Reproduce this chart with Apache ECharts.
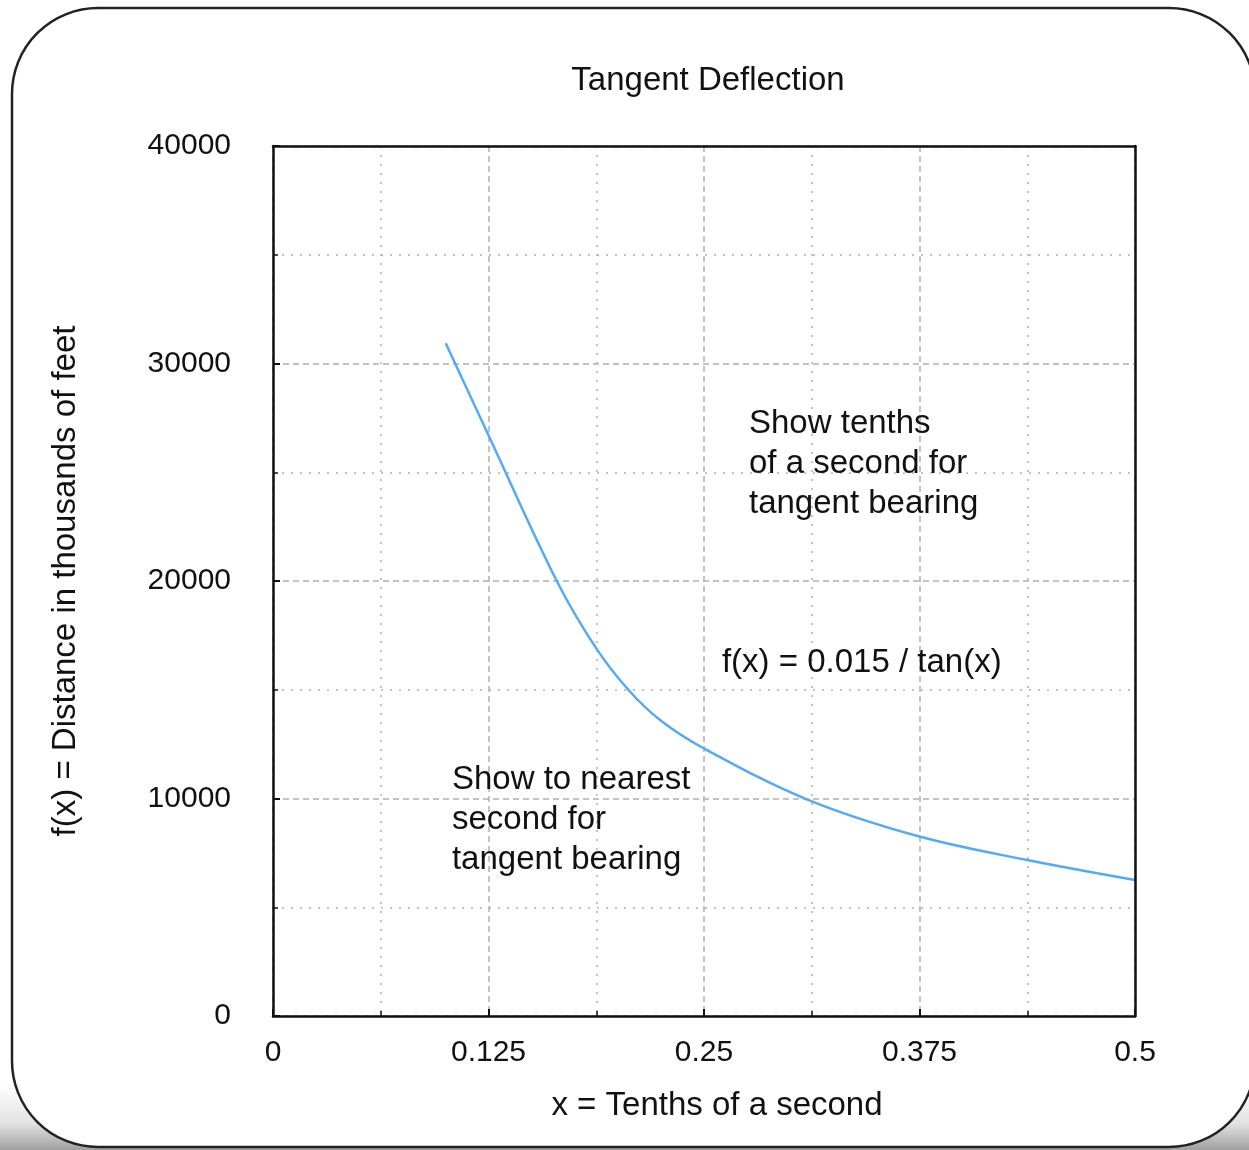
<!DOCTYPE html>
<html>
<head>
<meta charset="utf-8">
<script src="https://cdn.jsdelivr.net/npm/echarts@6/dist/echarts.min.js"></script>
<style>
  html, body { margin: 0; padding: 0; background: #fff; }
  #main { width: 1249px; height: 1150px; }
</style>
</head>
<body>
<div id="main"></div>
<script>
// ---- data ----
const titleText = 'Tangent Deflection';
const xAxisName = 'x = Tenths of a second';
const yAxisName = 'f(x) = Distance in thousands of feet';
const xTickLabels = ['0', '0.125', '0.25', '0.375', '0.5'];
const yTickLabels = ['0', '10000', '20000', '30000', '40000'];
const xValues = [0.1002, 0.125, 0.1646, 0.1875, 0.2061, 0.2245, 0.25, 0.31, 0.375, 0.4375, 0.5];
const yValues = [30930, 26700, 20000, 16900, 15000, 13610, 12300, 9950, 8250, 7170, 6250];
const annotationTexts = [
  'Show tenths\nof a second for\ntangent bearing',
  'f(x) = 0.015 / tan(x)',
  'Show to nearest\nsecond for\ntangent bearing'
];
const annotationAnchors = [[0.2761, 25380], [0.2604, 16230], [0.1038, 9010]];

const FONT = '"Liberation Sans", Arial, Helvetica, sans-serif';
const TXT = '#111';
const WORD_SIZE = 33;
const NUM_SIZE = 30;
const FRAME = '#111';

const chart = echarts.init(document.getElementById('main'), null, { renderer: 'canvas' });

const seriesData = xValues.map((x, i) => [x, yValues[i]]);

const frameAxis = {
  axisLine: { show: true, onZero: false, lineStyle: { color: FRAME, width: 2.5 } },
  axisTick: { show: false }, axisLabel: { show: false },
  splitLine: { show: false }, minorSplitLine: { show: false }, z: 10
};

const option = {
  animation: false,
  backgroundColor: '#fff',
  title: {
    text: titleText,
    left: 703,
    textAlign: 'center',
    top: 59,
    textStyle: { fontFamily: FONT, fontSize: WORD_SIZE, fontWeight: 'normal', color: TXT }
  },
  grid: {
    left: 273, top: 146, right: 114, bottom: 134,
    show: false
  },
  xAxis: [{
    type: 'value', min: 0, max: 0.5, interval: 0.125,
    name: xAxisName, nameLocation: 'middle', nameGap: 73,
    nameTextStyle: { fontFamily: FONT, fontSize: WORD_SIZE, color: TXT, padding: [0, 0, 0, 26] },
    axisLine: { show: true, onZero: false, lineStyle: { color: FRAME, width: 2.5 } },
    axisTick: { show: true, inside: true, length: 7, lineStyle: { color: FRAME, width: 2 } },
    minorTick: { show: true, splitNumber: 2, length: 5, lineStyle: { color: FRAME, width: 1.5 } },
    axisLabel: {
      fontFamily: FONT, fontSize: NUM_SIZE, color: TXT, margin: 22,
      formatter: (v) => xTickLabels[Math.round(v / 0.125)] ?? ''
    },
    splitLine: { show: true, lineStyle: { color: '#b0b0b0', width: 1.5, type: [6, 4] } },
    minorSplitLine: { show: true, lineStyle: { color: '#b0b0b0', width: 1.5, type: [2, 7] } }
  }, Object.assign({ type: 'value', min: 0, max: 0.5, interval: 0.125, position: 'top' }, frameAxis)],
  yAxis: [{
    type: 'value', min: 0, max: 40000, interval: 10000,
    name: yAxisName, nameLocation: 'middle', nameGap: 191, nameRotate: 90,
    nameTextStyle: { fontFamily: FONT, fontSize: WORD_SIZE, color: TXT },
    axisLine: { show: true, onZero: false, lineStyle: { color: FRAME, width: 2.5 } },
    axisTick: { show: true, inside: true, length: 7, lineStyle: { color: FRAME, width: 2 } },
    minorTick: { show: true, splitNumber: 2, length: 5, lineStyle: { color: FRAME, width: 1.5 } },
    axisLabel: {
      fontFamily: FONT, fontSize: NUM_SIZE, color: TXT, margin: 42,
      formatter: (v) => yTickLabels[Math.round(v / 10000)] ?? ''
    },
    splitLine: { show: true, lineStyle: { color: '#b0b0b0', width: 1.5, type: [6, 4] } },
    minorSplitLine: { show: true, lineStyle: { color: '#b0b0b0', width: 1.5, type: [2, 7] } }
  }, Object.assign({ type: 'value', min: 0, max: 40000, interval: 10000, position: 'right' }, frameAxis)],
  series: [{
    type: 'line',
    xAxisIndex: 0, yAxisIndex: 0,
    data: seriesData,
    smooth: 0.35,
    showSymbol: false,
    lineStyle: { color: '#55aaf5', width: 2.5 },
    z: 5
  }],
  graphic: {
    elements: [
      {
        id: 'shadow', type: 'rect', z: -20, silent: true,
        shape: { x: 0, y: 1085, width: 1249, height: 65 },
        style: {
          fill: new echarts.graphic.LinearGradient(0, 0, 0, 1, [
            { offset: 0, color: 'rgba(255,255,255,1)' },
            { offset: 0.6, color: 'rgba(225,225,225,1)' },
            { offset: 1, color: 'rgba(160,160,160,1)' }
          ])
        }
      },
      {
        id: 'frame', type: 'rect', z: -10, silent: true,
        shape: { x: 12, y: 8, width: 1243, height: 1139, r: 86 },
        style: { fill: '#fff', stroke: '#222', lineWidth: 2.5 }
      }
    ]
  }
};

chart.setOption(option);

const textEls = annotationTexts.map((t, i) => {
  const p = chart.convertToPixel({ xAxisIndex: 0, yAxisIndex: 0 }, annotationAnchors[i]);
  return {
    id: 'ann' + i, type: 'text', z: 50, silent: true,
    x: p[0], y: p[1],
    style: {
      text: t, fontFamily: FONT, fontSize: WORD_SIZE, fill: TXT,
      lineHeight: 40, align: 'left', verticalAlign: 'middle'
    }
  };
});
chart.setOption({ graphic: { elements: textEls } });
</script>
</body>
</html>
